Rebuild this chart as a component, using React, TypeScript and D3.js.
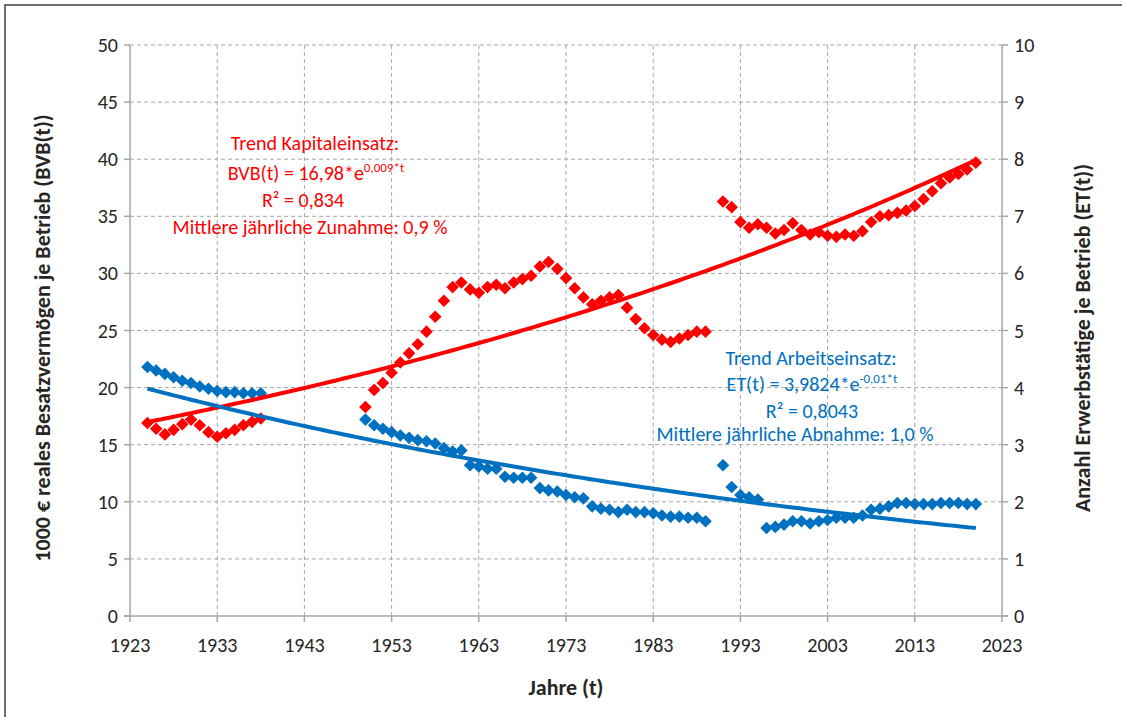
import React from "react";
import * as d3 from "d3";

// ---- Data ----
const yearsA = [1925, 1926, 1927, 1928, 1929, 1930, 1931, 1932, 1933, 1934, 1935, 1936, 1937, 1938];
const yearsB = [1950, 1951, 1952, 1953, 1954, 1955, 1956, 1957, 1958, 1959, 1960, 1961, 1962, 1963, 1964, 1965, 1966, 1967, 1968, 1969,
  1970, 1971, 1972, 1973, 1974, 1975, 1976, 1977, 1978, 1979, 1980, 1981, 1982, 1983, 1984, 1985, 1986, 1987, 1988, 1989];
const yearsC = [1991, 1992, 1993, 1994, 1995, 1996, 1997, 1998, 1999, 2000, 2001, 2002, 2003, 2004, 2005, 2006, 2007, 2008, 2009, 2010,
  2011, 2012, 2013, 2014, 2015, 2016, 2017, 2018, 2019, 2020];

// BVB(t), 1000 € (left axis)
const bvbA = [16.9, 16.4, 15.9, 16.3, 16.8, 17.2, 16.7, 16.1, 15.7, 16.0, 16.3, 16.7, 17.0, 17.3];
const bvbB = [18.3, 19.8, 20.4, 21.3, 22.2, 23.0, 23.8, 24.9, 26.2, 27.6, 28.8, 29.2, 28.6, 28.3, 28.8, 29.0, 28.7, 29.2, 29.5, 29.8,
  30.6, 31.0, 30.4, 29.6, 28.7, 27.9, 27.3, 27.6, 27.9, 28.1, 27.0, 26.0, 25.2, 24.6, 24.2, 24.0, 24.3, 24.6, 24.9, 24.9];
const bvbC = [36.3, 35.8, 34.5, 34.0, 34.3, 34.0, 33.5, 33.8, 34.4, 33.8, 33.4, 33.6, 33.3, 33.2, 33.4, 33.3, 33.7, 34.5, 35.0, 35.1,
  35.3, 35.5, 35.9, 36.5, 37.2, 37.9, 38.4, 38.7, 39.1, 39.7];

// ET(t), persons (right axis)
const etA = [4.36, 4.30, 4.24, 4.18, 4.12, 4.08, 4.02, 3.98, 3.94, 3.92, 3.92, 3.90, 3.90, 3.90];
const etB = [3.44, 3.34, 3.28, 3.22, 3.16, 3.12, 3.08, 3.06, 3.02, 2.94, 2.88, 2.90, 2.64, 2.62, 2.58, 2.58, 2.44, 2.42, 2.42, 2.42,
  2.24, 2.20, 2.18, 2.12, 2.08, 2.06, 1.92, 1.88, 1.86, 1.82, 1.86, 1.82, 1.82, 1.80, 1.76, 1.74, 1.74, 1.72, 1.72, 1.66];
const etC = [2.64, 2.26, 2.12, 2.08, 2.04, 1.54, 1.56, 1.60, 1.66, 1.66, 1.62, 1.66, 1.68, 1.72, 1.72, 1.72, 1.76, 1.86, 1.88, 1.92,
  1.98, 1.98, 1.96, 1.96, 1.96, 1.98, 1.98, 1.98, 1.96, 1.96];

// Trend coefficients as printed in the chart (t = year - 1925)
const trendBVB = { a: 16.98, b: 0.009 };
const trendET = { a: 3.9824, b: -0.01 };
const trendYears = [1925, 2020];

const xTicks = [1923, 1933, 1943, 1953, 1963, 1973, 1983, 1993, 2003, 2013, 2023];
const yLeftTicks = [0, 5, 10, 15, 20, 25, 30, 35, 40, 45, 50];
const yRightTicks = [0, 1, 2, 3, 4, 5, 6, 7, 8, 9, 10];

const RED = "#ff0000";
const BLUE = "#0070c0";
const FONT = "Carlito, Calibri, Lato, 'Open Sans', sans-serif";

export default function App() {
  const left = 130, right = 1002, top = 45, bottom = 616;
  const x = d3.scaleLinear().domain([1923, 2023]).range([left, right]);
  const yL = d3.scaleLinear().domain([0, 50]).range([bottom, top]);
  const yR = d3.scaleLinear().domain([0, 10]).range([bottom, top]);

  const diamond = (cx: number, cy: number, r: number) =>
    `M${cx},${cy - r}L${cx + r},${cy}L${cx},${cy + r}L${cx - r},${cy}Z`;

  const bvbPts: [number, number][] = [];
  [[yearsA, bvbA], [yearsB, bvbB], [yearsC, bvbC]].forEach(([ys, vs]) =>
    (ys as number[]).forEach((yr, i) => bvbPts.push([yr, (vs as number[])[i]])));
  const etPts: [number, number][] = [];
  [[yearsA, etA], [yearsB, etB], [yearsC, etC]].forEach(([ys, vs]) =>
    (ys as number[]).forEach((yr, i) => etPts.push([yr, (vs as number[])[i]])));

  const tYears = d3.range(trendYears[0], trendYears[1] + 0.01, 0.5);
  const redTrend = d3.line<number>()
    .x((d) => x(d))
    .y((d) => yL(trendBVB.a * Math.exp(trendBVB.b * (d - 1925))))(tYears) as string;
  const blueTrend = d3.line<number>()
    .x((d) => x(d))
    .y((d) => yR(trendET.a * Math.exp(trendET.b * (d - 1925))))(tYears) as string;

  const gridColor = "#a6a6a6";
  const axisColor = "#a6a6a6";
  const tickFont = 20;
  const annFont = 20;
  const titleFont = 22;
  const midY = 338;

  return (
    <svg width={1122} height={717} style={{ position: "absolute", left: 0, top: 0, background: "#fff" }}
      fontFamily={FONT}>
      <rect x={0} y={0} width={1122} height={717} fill="#fff" />
      <rect x={5} y={5} width={1130} height={730} fill="none" stroke="#404040" strokeWidth={1.5} />

      {/* grid */}
      {yLeftTicks.filter((v) => v > 0).map((v) => (
        <line key={"gy" + v} x1={left} x2={right} y1={yL(v)} y2={yL(v)} stroke={gridColor} strokeWidth={1} strokeDasharray="4,3" />
      ))}
      {xTicks.filter((v) => v > 1923 && v < 2023).map((v) => (
        <line key={"gx" + v} x1={x(v)} x2={x(v)} y1={top} y2={bottom} stroke={gridColor} strokeWidth={1} strokeDasharray="4,3" />
      ))}

      {/* axes */}
      <line x1={left} x2={left} y1={top} y2={bottom} stroke={axisColor} strokeWidth={1.5} />
      <line x1={right} x2={right} y1={top} y2={bottom} stroke={axisColor} strokeWidth={1.5} />
      <line x1={left - 6} x2={right + 6} y1={bottom} y2={bottom} stroke={axisColor} strokeWidth={1.5} />
      {yLeftTicks.map((v) => (
        <line key={"tl" + v} x1={left - 6} x2={left} y1={yL(v)} y2={yL(v)} stroke={axisColor} strokeWidth={1.5} />
      ))}
      {yRightTicks.map((v) => (
        <line key={"tr" + v} x1={right} x2={right + 6} y1={yR(v)} y2={yR(v)} stroke={axisColor} strokeWidth={1.5} />
      ))}
      {xTicks.map((v) => (
        <line key={"tx" + v} x1={x(v)} x2={x(v)} y1={bottom} y2={bottom + 6} stroke={axisColor} strokeWidth={1.5} />
      ))}

      {/* tick labels */}
      {yLeftTicks.map((v) => (
        <text key={"ll" + v} x={left - 12} y={yL(v)} dy="0.35em" textAnchor="end" fontSize={tickFont} fill="#262626">{v}</text>
      ))}
      {yRightTicks.map((v) => (
        <text key={"rl" + v} x={right + 12} y={yR(v)} dy="0.35em" textAnchor="start" fontSize={tickFont} fill="#262626">{v}</text>
      ))}
      {xTicks.map((v) => (
        <text key={"xl" + v} x={x(v)} y={bottom + 36} textAnchor="middle" fontSize={tickFont} fill="#262626">{v}</text>
      ))}

      {/* axis titles */}
      <text transform={`translate(50,${midY}) rotate(-90)`} textAnchor="middle" fontSize={titleFont} fontWeight="bold" fill="#262626">
        1000 € reales Besatzvermögen je Betrieb (BVB(t))
      </text>
      <text transform={`translate(1090,${midY}) rotate(-90)`} textAnchor="middle" fontSize={titleFont} fontWeight="bold" fill="#262626">
        Anzahl Erwerbstätige je Betrieb (ET(t))
      </text>
      <text x={(left + right) / 2} y={695} textAnchor="middle" fontSize={titleFont} fontWeight="bold" fill="#262626">Jahre (t)</text>

      {/* markers */}
      {bvbPts.map(([yr, v], i) => (
        <path key={"r" + i} d={diamond(x(yr), yL(v), 6.3)} fill={RED} />
      ))}
      {etPts.map(([yr, v], i) => (
        <path key={"b" + i} d={diamond(x(yr), yR(v), 6.3)} fill={BLUE} />
      ))}

      {/* trend lines */}
      <path d={redTrend} fill="none" stroke={RED} strokeWidth={4} />
      <path d={blueTrend} fill="none" stroke={BLUE} strokeWidth={4} />

      {/* annotations */}
      <g fill={RED} fontSize={annFont} textAnchor="middle">
        <text x={315} y={150}>Trend Kapitaleinsatz:</text>
        <text x={316} y={180}>BVB(t) = 16,98*e<tspan dy={-8} fontSize={13}>0,009*t</tspan></text>
        <text x={303} y={207}>R² = 0,834</text>
        <text x={310} y={234}>Mittlere jährliche Zunahme: 0,9 %</text>
      </g>
      <g fill={BLUE} fontSize={annFont} textAnchor="middle">
        <text x={811} y={365}>Trend Arbeitseinsatz:</text>
        <text x={812} y={391}>ET(t) = 3,9824*e<tspan dy={-8} fontSize={13}>-0,01*t</tspan></text>
        <text x={812} y={418}>R² = 0,8043</text>
        <text x={795} y={441}>Mittlere jährliche Abnahme: 1,0 %</text>
      </g>
    </svg>
  );
}
